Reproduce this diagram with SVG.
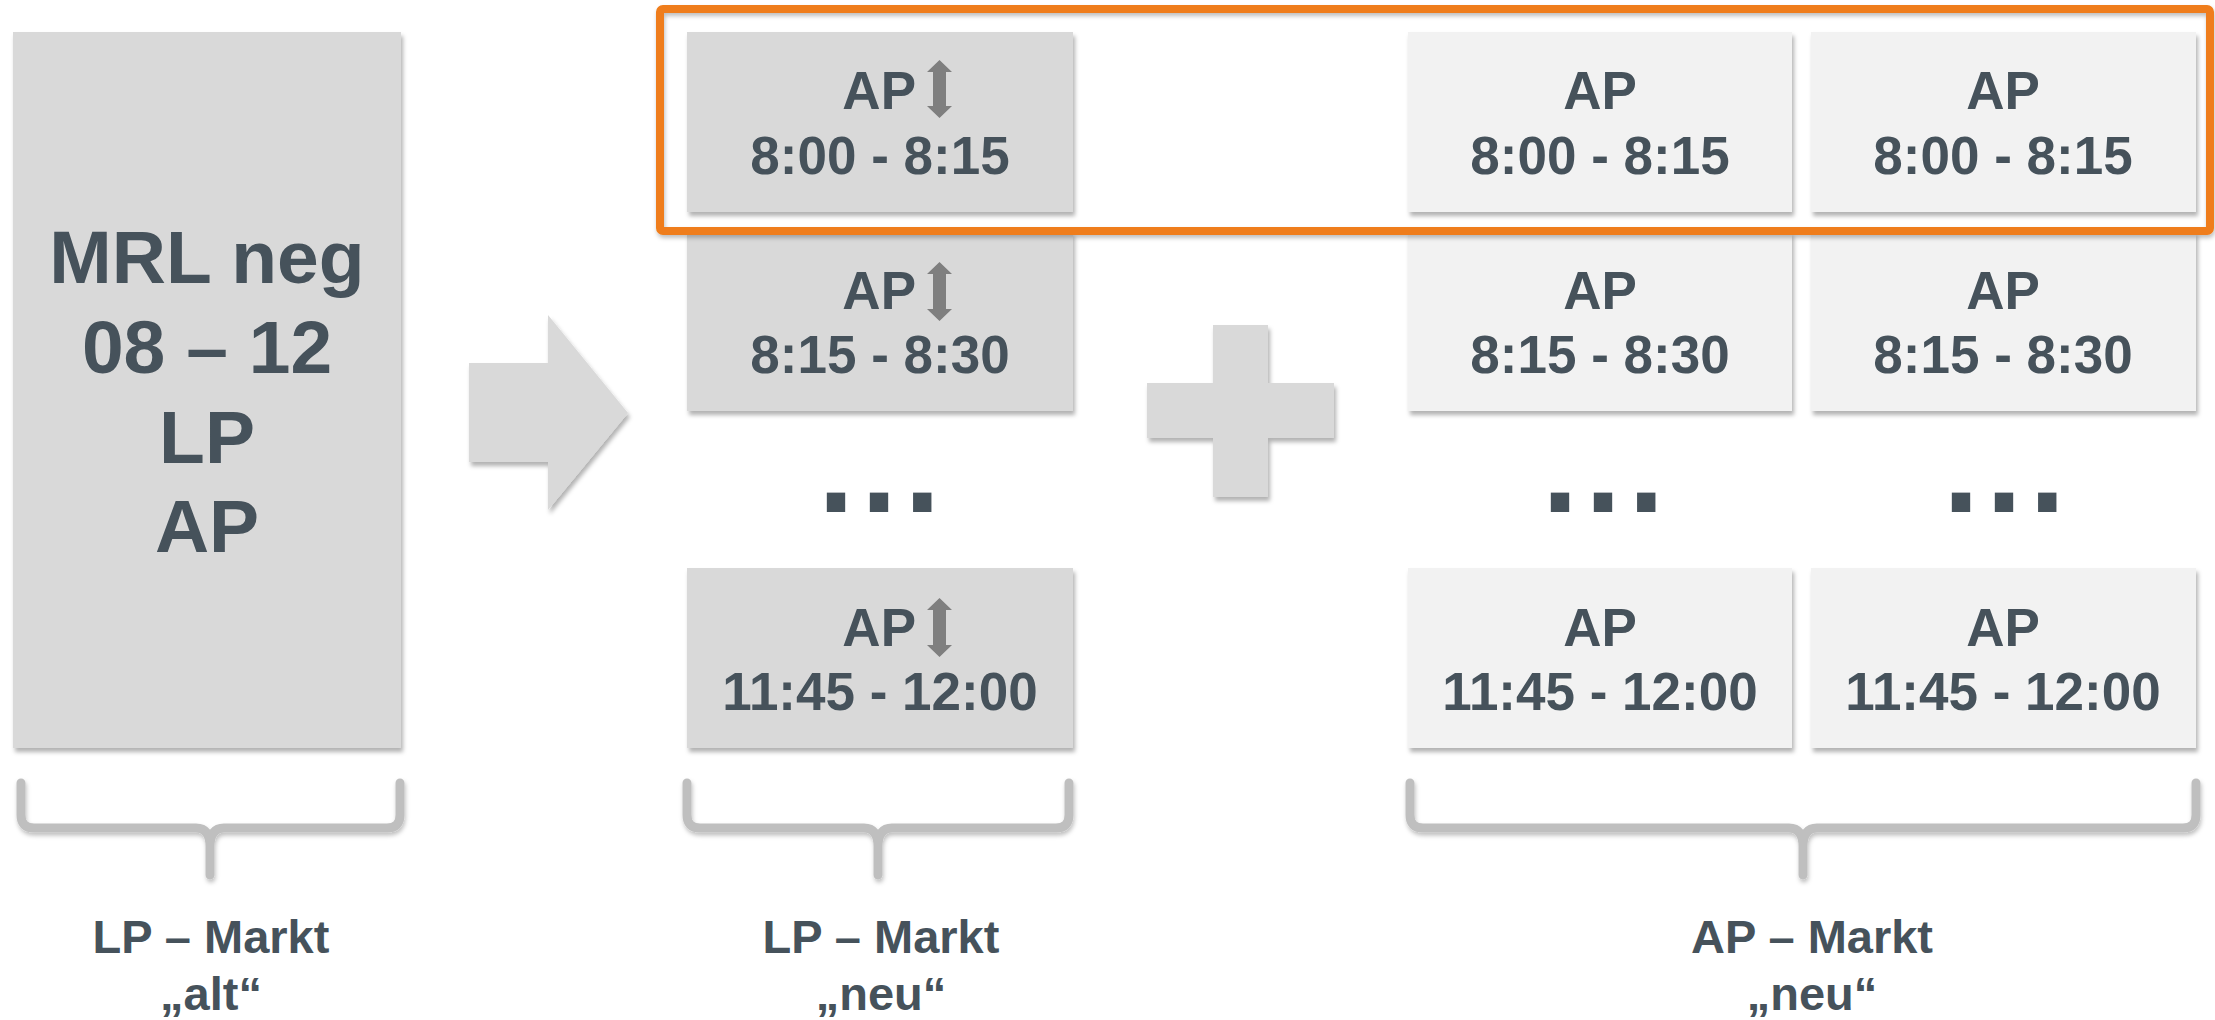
<svg xmlns="http://www.w3.org/2000/svg" width="2215" height="1020" viewBox="0 0 2215 1020">
  <defs>
    <filter id="sh" x="-5%" y="-5%" width="112%" height="115%">
      <feDropShadow dx="2" dy="4" stdDeviation="2" flood-color="#000" flood-opacity="0.3"/>
    </filter>
    <filter id="shb" x="-5%" y="-20%" width="112%" height="150%">
      <feDropShadow dx="1" dy="3" stdDeviation="2" flood-color="#000" flood-opacity="0.25"/>
    </filter>
    <style>
      .dark { fill: #D9D9D9; }
      .light { fill: #F2F2F2; }
      .t { font-family: "Liberation Sans", Arial, sans-serif; font-weight: bold; fill: #46525B; }
      .big { font-size: 75px; text-anchor: middle; }
      .box { font-size: 53px; text-anchor: middle; }
      .lbl { font-size: 47px; text-anchor: middle; }
      .dots { font-size: 130px; letter-spacing: 7px; }
      .brace { fill: none; stroke: #BFBFBF; stroke-width: 9; stroke-linecap: round; stroke-linejoin: round; }
      .ico { fill: #7F7F7F; }
    </style>
  </defs>

  <rect width="2215" height="1020" fill="#FFFFFF"/>

  <!-- Old LP market -->
  <g id="lp-alt">
    <rect class="dark" x="13" y="32" width="388" height="716" filter="url(#sh)"/>
    <text class="t big" x="207" y="283">MRL neg</text>
    <text class="t big" x="207" y="373">08 – 12</text>
    <text class="t big" x="207" y="463">LP</text>
    <text class="t big" x="207" y="552">AP</text>
  </g>

  <!-- Big arrow -->
  <g id="arrow">
    <polygon class="dark" points="469,363 548,363 548,315 628,413 548,510 548,462 469,462" filter="url(#sh)"/>
  </g>

  <!-- LP neu column -->
  <g id="lp-neu-1">
    <rect class="dark" x="687" y="32" width="386" height="180" filter="url(#sh)"/>
    <text class="t box" x="880" y="109" text-anchor="end" style="text-anchor:end" dx="36">AP</text>
    <path class="ico" d="M939.5,60 L952,72 L946,72 L946,106 L952,106 L939.5,118 L927,106 L933,106 L933,72 L927,72 Z"/>
    <text class="t box" x="880" y="174">8:00 - 8:15</text>
  </g>
  <g id="lp-neu-2">
    <rect class="dark" x="687" y="232" width="386" height="179" filter="url(#sh)"/>
    <text class="t box" x="916" y="309" style="text-anchor:end">AP</text>
    <path class="ico" d="M939.5,262 L952,274 L946,274 L946,309 L952,309 L939.5,321 L927,309 L933,309 L933,274 L927,274 Z"/>
    <text class="t box" x="880" y="373">8:15 - 8:30</text>
  </g>
  <g id="lp-neu-dots">
    <text class="t dots" x="818" y="512">...</text>
  </g>
  <g id="lp-neu-4">
    <rect class="dark" x="687" y="568" width="386" height="180" filter="url(#sh)"/>
    <text class="t box" x="916" y="646" style="text-anchor:end">AP</text>
    <path class="ico" d="M939.5,598 L952,610 L946,610 L946,645 L952,645 L939.5,657 L927,645 L933,645 L933,610 L927,610 Z"/>
    <text class="t box" x="880" y="710">11:45 - 12:00</text>
  </g>

  <!-- Plus sign -->
  <g id="plus">
    <path class="dark" d="M1213,325 L1268,325 L1268,383 L1334,383 L1334,438 L1268,438 L1268,497 L1213,497 L1213,438 L1147,438 L1147,383 L1213,383 Z" filter="url(#sh)"/>
  </g>

  <!-- AP neu column A -->
  <g id="ap-neu-a1">
    <rect class="light" x="1408" y="32" width="384" height="180" filter="url(#sh)"/>
    <text class="t box" x="1600" y="109">AP</text>
    <text class="t box" x="1600" y="174">8:00 - 8:15</text>
  </g>
  <g id="ap-neu-a2">
    <rect class="light" x="1408" y="232" width="384" height="179" filter="url(#sh)"/>
    <text class="t box" x="1600" y="309">AP</text>
    <text class="t box" x="1600" y="373">8:15 - 8:30</text>
  </g>
  <g id="ap-neu-a-dots">
    <text class="t dots" x="1542" y="512">...</text>
  </g>
  <g id="ap-neu-a4">
    <rect class="light" x="1408" y="568" width="384" height="180" filter="url(#sh)"/>
    <text class="t box" x="1600" y="646">AP</text>
    <text class="t box" x="1600" y="710">11:45 - 12:00</text>
  </g>

  <!-- AP neu column B -->
  <g id="ap-neu-b1">
    <rect class="light" x="1811" y="32" width="385" height="180" filter="url(#sh)"/>
    <text class="t box" x="2003" y="109">AP</text>
    <text class="t box" x="2003" y="174">8:00 - 8:15</text>
  </g>
  <g id="ap-neu-b2">
    <rect class="light" x="1811" y="232" width="385" height="179" filter="url(#sh)"/>
    <text class="t box" x="2003" y="309">AP</text>
    <text class="t box" x="2003" y="373">8:15 - 8:30</text>
  </g>
  <g id="ap-neu-b-dots">
    <text class="t dots" x="1943" y="512">...</text>
  </g>
  <g id="ap-neu-b4">
    <rect class="light" x="1811" y="568" width="385" height="180" filter="url(#sh)"/>
    <text class="t box" x="2003" y="646">AP</text>
    <text class="t box" x="2003" y="710">11:45 - 12:00</text>
  </g>

  <!-- Orange highlight -->
  <g id="highlight">
    <rect x="660" y="9" width="1550" height="222" rx="3" fill="none" stroke="#EF7D1A" stroke-width="8" filter="url(#shb)"/>
  </g>

  <!-- Braces -->
  <g id="connectors">
    <path class="brace" filter="url(#shb)" d="M21,783 L21,815 Q21,828 34,828 L196,828 Q210,828 210,846 L210,875 M210,846 Q210,828 224,828 L387,828 Q400,828 400,815 L400,783"/>
    <path class="brace" filter="url(#shb)" d="M687,783 L687,815 Q687,828 700,828 L864,828 Q878,828 878,846 L878,875 M878,846 Q878,828 892,828 L1056,828 Q1069,828 1069,815 L1069,783"/>
    <path class="brace" filter="url(#shb)" d="M1410,783 L1410,815 Q1410,828 1423,828 L1789,828 Q1803,828 1803,846 L1803,875 M1803,846 Q1803,828 1817,828 L2183,828 Q2196,828 2196,815 L2196,783"/>
  </g>

  <!-- Labels -->
  <g id="labels">
    <text class="t lbl" x="211" y="953">LP – Markt</text>
    <text class="t lbl" x="211" y="1010">„alt“</text>
    <text class="t lbl" x="881" y="953">LP – Markt</text>
    <text class="t lbl" x="881" y="1010">„neu“</text>
    <text class="t lbl" x="1812" y="953">AP – Markt</text>
    <text class="t lbl" x="1812" y="1010">„neu“</text>
  </g>
</svg>
